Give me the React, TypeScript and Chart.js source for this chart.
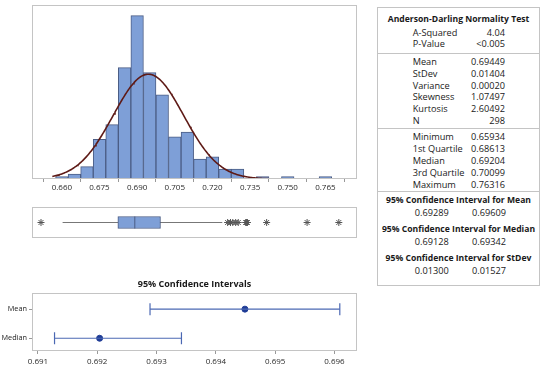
import React, { useEffect, useRef } from 'react';
import { Chart, registerables } from 'chart.js';

Chart.register(...registerables);

// ---------- data ----------
const BIN_CENTERS = [0.660, 0.665, 0.670, 0.675, 0.680, 0.685, 0.690, 0.695, 0.700, 0.705, 0.710, 0.715, 0.720, 0.725, 0.730, 0.735, 0.740, 0.745, 0.750, 0.755, 0.760, 0.765];
const BIN_COUNTS = [1, 2, 5, 16, 22, 45, 66, 43, 34, 17, 19, 8, 9, 4, 4, 0, 1, 0, 1, 0, 0, 1];
const HIST_TICKS = [0.660, 0.675, 0.690, 0.705, 0.720, 0.735, 0.750, 0.765];
const X_MIN = 0.6562;
const X_MAX = 0.7695;
const HIST_Y_MAX = 70.3;

const MEAN = 0.69449;
const STDEV = 0.01404;
const N = 298;
const BIN_WIDTH = 0.005;
const CURVE_END = 0.747;

const Q1 = 0.68613;
const MEDIAN = 0.69204;
const Q3 = 0.70099;
const WHISKER_LOW = 0.66687;
const WHISKER_HIGH = 0.72254;
const OUTLIERS = [0.65934, 0.7244, 0.7254, 0.7262, 0.7272, 0.7281, 0.7307, 0.7310, 0.7313, 0.7380, 0.7521, 0.76316];

const CI_LABELS = ['Mean', 'Median'];
const CI_LOW = [0.69289, 0.69128];
const CI_HIGH = [0.69609, 0.69342];
const CI_EST = [0.69449, 0.69204];
const CI_TICKS = [0.691, 0.692, 0.693, 0.694, 0.695, 0.696];
const CI_X_MIN = 0.6909;
const CI_X_MAX = 0.69638;

const AD_TITLE = 'Anderson-Darling Normality Test';
const AD_LABELS = ['A-Squared', 'P-Value'];
const AD_VALUES = ['4.04', '<0.005'];
const DESC_LABELS = ['Mean', 'StDev', 'Variance', 'Skewness', 'Kurtosis', 'N'];
const DESC_VALUES = ['0.69449', '0.01404', '0.00020', '1.07497', '2.60492', '298'];
const QUART_LABELS = ['Minimum', '1st Quartile', 'Median', '3rd Quartile', 'Maximum'];
const QUART_VALUES = ['0.65934', '0.68613', '0.69204', '0.70099', '0.76316'];
const CI_TITLES = ['95% Confidence Interval for Mean', '95% Confidence Interval for Median', '95% Confidence Interval for StDev'];
const CI_TABLE_LOW = ['0.69289', '0.69128', '0.01300'];
const CI_TABLE_HIGH = ['0.69609', '0.69342', '0.01527'];

// ---------- styles ----------
const FONT = 'Open Sans';
const BAR_FILL = '#7e9fd7';
const BAR_EDGE = '#4b5d85';
const FRAME = '#c4c4c4';
const TEXT = '#1a1a1a';

Chart.defaults.font.family = FONT;

const framePlugin = {
  id: 'frame',
  afterDraw(chart: any) {
    const { ctx, chartArea: a } = chart;
    ctx.save();
    ctx.strokeStyle = FRAME;
    ctx.lineWidth = 1;
    ctx.strokeRect(Math.round(a.left) + 0.5, Math.round(a.top) + 0.5, Math.round(a.right - a.left) - 1, Math.round(a.bottom - a.top) - 1);
    ctx.restore();
  },
};

function normalCurve() {
  const pts: { x: number; y: number }[] = [];
  const steps = 240;
  const k = (N * BIN_WIDTH) / (STDEV * Math.sqrt(2 * Math.PI));
  for (let i = 0; i <= steps; i++) {
    const x = X_MIN + (i * (CURVE_END - X_MIN)) / steps;
    const z = (x - MEAN) / STDEV;
    pts.push({ x, y: k * Math.exp(-0.5 * z * z) });
  }
  return pts;
}

function useChart(ref: React.RefObject<HTMLCanvasElement>, make: () => any) {
  useEffect(() => {
    if (!ref.current) return;
    const chart = new Chart(ref.current, make());
    return () => chart.destroy();
  }, []);
}

export default function App() {
  const histRef = useRef<HTMLCanvasElement>(null);
  const boxRef = useRef<HTMLCanvasElement>(null);
  const ciRef = useRef<HTMLCanvasElement>(null);

  useChart(histRef, () => ({
    type: 'bar',
    data: {
      datasets: [
        {
          type: 'line',
          data: normalCurve(),
          borderColor: '#5e1a16',
          borderWidth: 1.6,
          pointRadius: 0,
          order: 0,
        },
        {
          type: 'bar',
          data: BIN_CENTERS.map((c, i) => ({ x: c, y: BIN_COUNTS[i] })),
          backgroundColor: BAR_FILL,
          borderColor: BAR_EDGE,
          borderWidth: 1,
          borderSkipped: false,
          barPercentage: 1,
          categoryPercentage: 1,
          order: 1,
        },
      ],
    },
    options: {
      animation: false,
      responsive: false,
      layout: { padding: { left: 32, right: 13, top: 5, bottom: 1 } },
      plugins: { legend: { display: false }, tooltip: { enabled: false } },
      scales: {
        x: {
          type: 'linear',
          min: X_MIN,
          max: X_MAX,
          afterBuildTicks: (s: any) => { s.ticks = HIST_TICKS.map((v) => ({ value: v })); },
          afterFit: (s: any) => { s.height = 20; },
          ticks: { callback: (v: any) => Number(v).toFixed(3), font: { size: 8 }, color: '#2a2a2a', padding: 1, maxRotation: 0, autoSkip: false },
          grid: { drawOnChartArea: false, tickLength: 3, color: '#999' },
          border: { display: false },
        },
        y: { display: false, min: 0, max: HIST_Y_MAX },
      },
    },
    plugins: [framePlugin],
  }));

  useChart(boxRef, () => ({
    type: 'bar',
    data: {
      labels: ['box'],
      datasets: [
        {
          type: 'scatter',
          data: OUTLIERS.map((v) => ({ x: v, y: 'box' })),
          pointStyle: 'star',
          pointRadius: 3.5,
          borderColor: '#555',
          borderWidth: 1,
          order: 0,
        },
        {
          type: 'scatter',
          data: [{ x: MEDIAN, y: 'box' }],
          pointStyle: 'line',
          rotation: 90,
          pointRadius: 6,
          borderColor: BAR_EDGE,
          borderWidth: 1,
          order: 0,
        },
        {
          type: 'bar',
          data: [[Q1, Q3]],
          backgroundColor: BAR_FILL,
          borderColor: BAR_EDGE,
          borderWidth: 1,
          borderSkipped: false,
          barThickness: 12,
          grouped: false,
          order: 1,
        },
        {
          type: 'scatter',
          showLine: true,
          data: [{ x: WHISKER_LOW, y: 'box' }, { x: WHISKER_HIGH, y: 'box' }],
          borderColor: '#777',
          borderWidth: 1,
          pointRadius: 0,
          order: 2,
        },
      ],
    },
    options: {
      indexAxis: 'y',
      animation: false,
      responsive: false,
      layout: { padding: { left: 32, right: 13, top: 3, bottom: 3 } },
      plugins: { legend: { display: false }, tooltip: { enabled: false } },
      scales: {
        x: { type: 'linear', display: false, min: X_MIN, max: X_MAX },
        y: { type: 'category', labels: ['box'], display: false },
      },
    },
    plugins: [framePlugin],
  }));

  useChart(ciRef, () => ({
    type: 'scatter',
    data: {
      datasets: [
        ...CI_LABELS.map((_, i) => ({
          type: 'scatter',
          showLine: true,
          data: [{ x: CI_LOW[i], y: i }, { x: CI_HIGH[i], y: i }],
          borderColor: '#4b68b3',
          borderWidth: 1.2,
          pointStyle: 'line',
          rotation: 90,
          pointRadius: 6,
          pointBorderColor: '#4b68b3',
          pointBorderWidth: 1.2,
        })),
        {
          type: 'scatter',
          data: CI_LABELS.map((_, i) => ({ x: CI_EST[i], y: i })),
          pointStyle: 'circle',
          pointRadius: 3,
          backgroundColor: '#1f3c96',
          borderColor: '#1f3c96',
        },
      ],
    },
    options: {
      animation: false,
      responsive: false,
      layout: { padding: { left: 0, right: 13, top: 0, bottom: 2 } },
      plugins: {
        legend: { display: false },
        tooltip: { enabled: false },
        title: {
          display: true,
          text: '95% Confidence Intervals',
          fullSize: false,
          color: TEXT,
          font: { size: 9, weight: 'bold', family: FONT },
          padding: { top: 9, bottom: 3 },
        },
      },
      scales: {
        x: {
          type: 'linear',
          min: CI_X_MIN,
          max: CI_X_MAX,
          afterBuildTicks: (s: any) => { s.ticks = CI_TICKS.map((v) => ({ value: v })); },
          afterFit: (s: any) => { s.height = 16; },
          ticks: { callback: (v: any) => Number(v).toFixed(3), font: { size: 8 }, color: '#2a2a2a', padding: 3, maxRotation: 0, autoSkip: false },
          grid: { drawOnChartArea: false, tickLength: 3, color: '#999' },
          border: { display: false },
        },
        y: {
          type: 'linear',
          reverse: true,
          min: -0.562,
          max: 1.438,
          afterBuildTicks: (s: any) => { s.ticks = CI_LABELS.map((_, i) => ({ value: i })); },
          afterFit: (s: any) => { s.width = 32; },
          ticks: { callback: (v: any) => CI_LABELS[v], font: { size: 7.3 }, color: TEXT, padding: 2, autoSkip: false },
          grid: { drawOnChartArea: false, tickLength: 3, color: '#999' },
          border: { display: false },
        },
      },
    },
    plugins: [framePlugin],
  }));

  const rowText = (text: string, x: number, y: number, bold = false, align: 'left' | 'right' | 'center' = 'left') => {
    const style: React.CSSProperties = {
      position: 'absolute',
      top: y,
      whiteSpace: 'nowrap',
      fontSize: bold ? 8.6 : 9.2,
      lineHeight: '12px',
      fontWeight: bold ? 700 : 400,
      color: TEXT,
    };
    if (align === 'left') { style.left = x; style.transform = 'translateY(-50%)'; }
    if (align === 'right') { style.right = 550 - x; style.transform = 'translateY(-50%)'; }
    if (align === 'center') { style.left = x; style.transform = 'translate(-50%, -50%)'; }
    return <div key={`${text}-${x}-${y}`} style={style}>{text}</div>;
  };

  const LABEL_X = 412.7;
  const VALUE_X = 505;
  const CENTER_X = 458.5;
  const rows: React.ReactNode[] = [];
  rows.push(rowText(AD_TITLE, CENTER_X, 19, true, 'center'));
  AD_LABELS.forEach((l, i) => { rows.push(rowText(l, LABEL_X, 33.3 + 11 * i)); rows.push(rowText(AD_VALUES[i], VALUE_X, 33.3 + 11 * i, false, 'right')); });
  DESC_LABELS.forEach((l, i) => { rows.push(rowText(l, LABEL_X, 62.3 + 11.7 * i)); rows.push(rowText(DESC_VALUES[i], VALUE_X, 62.3 + 11.7 * i, false, 'right')); });
  QUART_LABELS.forEach((l, i) => { rows.push(rowText(l, LABEL_X, 137.2 + 11.9 * i)); rows.push(rowText(QUART_VALUES[i], VALUE_X, 137.2 + 11.9 * i, false, 'right')); });
  CI_TITLES.forEach((t, i) => {
    rows.push(rowText(t, CENTER_X, 200 + 28.8 * i, true, 'center'));
    rows.push(rowText(CI_TABLE_LOW[i], 431.7, 213.4 + 28.8 * i, false, 'center'));
    rows.push(rowText(CI_TABLE_HIGH[i], 489, 213.4 + 28.8 * i, false, 'center'));
  });

  const sep = (y: number) => (
    <div key={`sep-${y}`} style={{ position: 'absolute', left: 377, top: y, width: 163, height: 1, background: FRAME }} />
  );

  return (
    <div style={{ position: 'fixed', left: 0, top: 0, width: 550, height: 369, background: '#fff', fontFamily: FONT, overflow: 'hidden' }}>
      <canvas ref={histRef} width={370} height={200} style={{ position: 'absolute', left: 0, top: 0 }} />
      <canvas ref={boxRef} width={370} height={45} style={{ position: 'absolute', left: 0, top: 200 }} />
      <canvas ref={ciRef} width={370} height={99} style={{ position: 'absolute', left: 0, top: 270 }} />
      <div style={{ position: 'absolute', left: 377, top: 7, width: 161, height: 277, border: `1px solid ${FRAME}` }} />
      {sep(53)}
      {sep(128)}
      {sep(191)}
      {rows}
    </div>
  );
}
